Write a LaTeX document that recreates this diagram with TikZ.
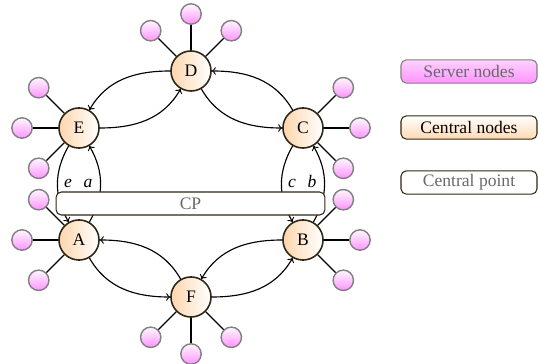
\documentclass[tikz,border=0pt]{standalone}
\usepackage{fontspec}
\setmainfont{Liberation Serif}
\definecolor{cborder}{RGB}{45,40,20}
\definecolor{txtgray}{RGB}{105,105,105}
\begin{document}
\begin{tikzpicture}[x=0.569pt,y=0.569pt,
  central/.style={circle,draw=cborder,line width=0.9pt,left color=orange!32,right color=white,minimum size=22.8pt,inner sep=0pt},
  srv/.style={circle,draw=gray,line width=0.8pt,top color=magenta!3,bottom color=magenta!42,minimum size=11.6pt,inner sep=0pt},
  spoke/.style={line width=0.7pt},
  link/.style={->,line width=0.65pt},
  lbl/.style={anchor=base,inner sep=0pt},
  legendbox/.style={rounded corners=3pt,minimum width=77.4pt,minimum height=13.2pt,inner sep=0pt,line width=0.6pt},
]
\useasboundingbox (-191,-180) rectangle (347,184);
% central nodes
\node[central] (D) at (0,113) {D};
\node[central] (E) at (-112,56) {E};
\node[central] (C) at (112,56) {C};
\node[central] (A) at (-112,-56) {A};
\node[central] (B) at (112,-56) {B};
\node[central] (F) at (0,-113) {F};
% server nodes
\foreach \c/\a/\b/\d in {D/45/90/135, E/135/180/225, C/45/0/-45, A/135/180/225, B/45/0/-45, F/225/270/315}{
  \node[srv] (\c1) at ([shift={(\a:57)}]\c) {};
  \node[srv] (\c2) at ([shift={(\b:57)}]\c) {};
  \node[srv] (\c3) at ([shift={(\d:57)}]\c) {};
  \draw[spoke] (\c) -- (\c1);
  \draw[spoke] (\c) -- (\c2);
  \draw[spoke] (\c) -- (\c3);
}
% links
\draw[link] (D.west) to[out=180,in=60] (E.60);
\draw[link] (E.east) to[out=0,in=240] (D.240);
\draw[link] (C.120) to[out=120,in=0] (D.east);
\draw[link] (D.300) to[out=300,in=180] (C.west);
\draw[link] (E.240) to[out=240,in=120] (A.120);
\draw[link] (A.60) to[out=60,in=300] (E.300);
\draw[link] (C.240) to[out=240,in=120] (B.120);
\draw[link] (B.60) to[out=60,in=300] (C.300);
\draw[link] (F.120) to[out=120,in=0] (A.east);
\draw[link] (A.300) to[out=300,in=180] (F.west);
\draw[link] (B.west) to[out=180,in=60] (F.60);
\draw[link] (F.east) to[out=0,in=240] (B.240);
% labels
\node[lbl] (le) at (-123,-4) {\textit{e}};
\node[lbl] (la) at (-103,-4) {\textit{a}};
\node[lbl] (lc) at (101,-4) {\textit{c}};
\node[lbl] (lb) at (121,-4) {\textit{b}};
% central point
\node[draw=cborder,fill=white,rounded corners=3pt,minimum width=153pt,minimum height=13.1pt,inner sep=0pt,line width=0.6pt,text=txtgray] (CP) at (-0.5,-19.5) {CP};
% legend
\node[legendbox,draw=gray,top color=magenta!18,bottom color=magenta!42,text=txtgray] (L1) at (278,112.5) {Server nodes};
\node[legendbox,draw=cborder,top color=white,bottom color=orange!30,text=black] (L2) at (278,56.5) {Central nodes};
\node[legendbox,draw=cborder,fill=white,text=txtgray] (L3) at (278,1.5) {Central point};
\end{tikzpicture}
\end{document}
